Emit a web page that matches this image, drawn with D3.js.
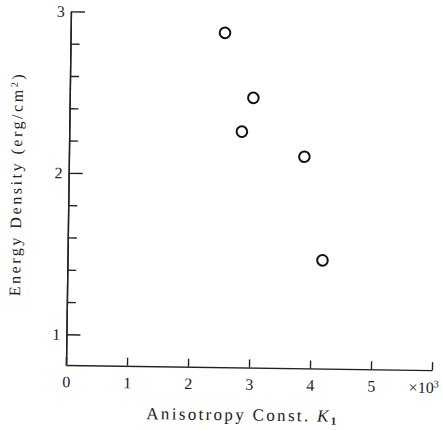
<!DOCTYPE html>
<html>
<head>
<meta charset="utf-8">
<script src="https://cdn.jsdelivr.net/npm/d3@7"></script>
<style>
  body { margin: 0; background: #fff; }
  svg { display: block; }
  .axis path, .axis line { stroke: #222; stroke-width: 1.4; }
  .axis text { font-family: "Liberation Serif", "DejaVu Serif", serif; font-size: 16px; fill: #222; }
  .lbl { font-family: "Liberation Serif", "DejaVu Serif", serif; fill: #222; }
</style>
</head>
<body>
<div id="chart"></div>
<script>
// K1 (x10^3) vs energy density (erg/cm^2)
var k1 = [2.53, 3.01, 2.83, 3.86, 4.18];
var energy = [2.88, 2.48, 2.27, 2.12, 1.48];

var xTicks = [0, 1, 2, 3, 4, 5, 6];
var yMajor = [1, 2, 3];
var yMinor = [1.2, 1.4, 1.6, 1.8, 2.2, 2.4, 2.6, 2.8];

var width = 443, height = 430;
var ox = 66, oy = 365; // origin of the plot

var svg = d3.select('#chart').append('svg')
    .attr('width', width)
    .attr('height', height);

// the scan is slightly tilted, so the whole figure is turned a bit
var g = svg.append('g')
    .attr('transform', 'rotate(0.8,' + ox + ',' + oy + ')');

var x = d3.scaleLinear()
    .domain([0, 6])
    .range([ox, ox + 366]);

var y = d3.scaleLinear()
    .domain([0.81, 3])
    .range([oy, 11.3]);

// x axis, ticks pointing up
g.append('g')
    .attr('class', 'axis')
    .attr('transform', 'translate(0,' + oy + ')')
    .call(d3.axisBottom(x)
        .tickValues(xTicks)
        .tickSizeInner(-8)
        .tickSizeOuter(0)
        .tickPadding(11)
        .tickFormat(function(d) { return d < 6 ? d : ''; }));

// y axis minor ticks
g.append('g')
    .attr('class', 'axis')
    .attr('transform', 'translate(' + ox + ',0)')
    .call(d3.axisLeft(y)
        .tickValues(yMinor)
        .tickSizeInner(-9)
        .tickSizeOuter(0)
        .tickFormat(''));

// y axis major ticks + labels
g.append('g')
    .attr('class', 'axis')
    .attr('transform', 'translate(' + ox + ',0)')
    .call(d3.axisLeft(y)
        .tickValues(yMajor)
        .tickSizeInner(-14)
        .tickSizeOuter(0)
        .tickPadding(6)
        .tickFormat(d3.format('d')));

g.selectAll('.axis .domain').attr('fill', 'none');

// multiplier at the end of the x axis
g.append('text')
    .attr('class', 'lbl')
    .attr('x', x(6) + 7)
    .attr('y', oy + 23)
    .attr('text-anchor', 'end')
    .attr('font-size', '16px')
    .html('×10<tspan dy="-6" font-size="10px">3</tspan>');

// axis titles
var xt = g.append('text')
    .attr('class', 'lbl')
    .attr('x', 242)
    .attr('y', 418)
    .attr('text-anchor', 'middle')
    .attr('font-size', '17px')
    .attr('textLength', 190)
    .attr('lengthAdjust', 'spacing');
xt.append('tspan').text('Anisotropy Const. ');
xt.append('tspan').attr('font-style', 'italic').text('K');
xt.append('tspan').attr('dy', 3).attr('font-size', '11px').attr('font-weight', 'bold').text('1');

g.append('text')
    .attr('class', 'lbl')
    .attr('transform', 'translate(19,186) rotate(-90)')
    .attr('text-anchor', 'middle')
    .attr('font-size', '16px')
    .attr('textLength', 222)
    .attr('lengthAdjust', 'spacing')
    .html('Energy Density (erg/cm<tspan dy="-5" font-size="10px">2</tspan><tspan dy="5">)</tspan>');

// data points
g.selectAll('.pt')
    .data(k1)
    .enter().append('circle')
    .attr('class', 'pt')
    .attr('cx', function(d) { return x(d); })
    .attr('cy', function(d, i) { return y(energy[i]); })
    .attr('r', 5.3)
    .attr('fill', '#fff')
    .attr('stroke', '#111')
    .attr('stroke-width', 2);
</script>
</body>
</html>
